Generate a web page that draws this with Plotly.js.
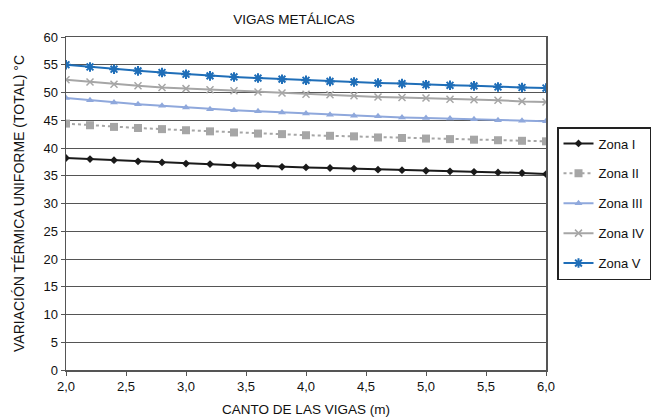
<!DOCTYPE html>
<html>
<head>
<meta charset="utf-8">
<script src="https://cdn.plot.ly/plotly-3.0.1.min.js"></script>
<style>html,body{margin:0;padding:0;background:#fff;}#chart{width:654px;height:418px;}</style>
</head>
<body>
<div id="chart"></div>
<script>
var xVals = [2.0,2.2,2.4,2.6,2.8,3.0,3.2,3.4,3.6,3.8,4.0,4.2,4.4,4.6,4.8,5.0,5.2,5.4,5.6,5.8,6.0];
var zonaI   = [38.2,38.0,37.8,37.6,37.4,37.2,37.1,36.9,36.8,36.6,36.5,36.4,36.3,36.1,36.0,35.9,35.8,35.7,35.6,35.5,35.3];
var zonaII  = [44.4,44.1,43.8,43.6,43.4,43.2,43.0,42.8,42.6,42.5,42.3,42.2,42.1,41.9,41.8,41.7,41.6,41.5,41.4,41.3,41.2];
var zonaIII = [49.0,48.6,48.2,47.9,47.6,47.3,47.0,46.8,46.6,46.4,46.2,46.0,45.8,45.7,45.5,45.4,45.3,45.2,45.0,44.9,44.8];
var zonaIV  = [52.3,51.9,51.5,51.2,50.9,50.7,50.5,50.3,50.1,49.9,49.7,49.6,49.4,49.2,49.1,49.0,48.8,48.7,48.6,48.4,48.3];
var zonaV   = [55.0,54.6,54.2,53.9,53.6,53.3,53.0,52.8,52.6,52.4,52.2,52.0,51.9,51.7,51.6,51.4,51.3,51.2,51.0,50.9,50.8];
var seriesNames = ["Zona I","Zona II","Zona III","Zona IV","Zona V"];
var xTickVals = [2.0,2.5,3.0,3.5,4.0,4.5,5.0,5.5,6.0];
var xTickText = ["2,0","2,5","3,0","3,5","4,0","4,5","5,0","5,5","6,0"];

var FONT = "Liberation Sans, Arial, sans-serif";
var data = [
  {x:xVals, y:zonaI, name:seriesNames[0], legendgroup:"g1", mode:"lines+markers", line:{color:"#1a1a1a", width:2}, marker:{symbol:"diamond", size:6, color:"#1a1a1a"}},
  {x:xVals, y:zonaII, name:seriesNames[1], legendgroup:"g2", mode:"lines+markers", line:{color:"#a6a6a6", width:2, dash:"dot"}, marker:{symbol:"square", size:8, color:"#a6a6a6"}},
  {x:xVals, y:zonaIII, name:seriesNames[2], legendgroup:"g3", mode:"lines+markers", line:{color:"#8fa8dc", width:2}, marker:{symbol:"triangle-up", size:7, color:"#8fa8dc"}},
  {x:xVals, y:zonaIV, name:seriesNames[3], legendgroup:"g4", mode:"lines+markers", line:{color:"#a6a6a6", width:2}, marker:{symbol:"x-thin", size:7, color:"#a6a6a6", line:{color:"#a6a6a6", width:1.5}}},
  {x:xVals, y:zonaV, name:seriesNames[4], legendgroup:"g5", mode:"lines+markers", line:{color:"#1f6eb8", width:2}, marker:{symbol:"asterisk", size:8, color:"#1f6eb8", line:{color:"#1f6eb8", width:2}}}
];
var layout = {
  width:654, height:418,
  margin:{l:66, r:108, t:37, b:48, autoexpand:false},
  paper_bgcolor:"#fff", plot_bgcolor:"#fff",
  font:{family:FONT, size:13, color:"#111"},
  title:{text:"VIGAS METÁLICAS", xref:"paper", x:0.475, xanchor:"center", yref:"container", y:0.955, yanchor:"middle", font:{family:FONT, size:13.5, color:"#111"}},
  xaxis:{
    range:[2,6], tickvals:xTickVals, ticktext:xTickText,
    showgrid:false, zeroline:false,
    showline:true, linecolor:"#555", linewidth:1.5, mirror:true,
    ticks:"outside", ticklen:4, tickcolor:"#555",
    tickfont:{family:FONT, size:13, color:"#111"},
    title:{text:"CANTO DE LAS VIGAS (m)", standoff:11, font:{family:FONT, size:13.5, color:"#111"}}
  },
  yaxis:{
    range:[0,60], dtick:5, tick0:0,
    showgrid:true, gridcolor:"#555", gridwidth:1,
    zeroline:false,
    showline:true, linecolor:"#555", linewidth:1.5, mirror:true,
    ticks:"outside", ticklen:4, tickcolor:"#555",
    tickfont:{family:FONT, size:13, color:"#111"},
    title:{text:"VARIACIÓN TÉRMICA UNIFORME (TOTAL) °C", standoff:15, font:{family:FONT, size:14, color:"#111"}}
  },
  showlegend:true,
  legend:{xref:"container", x:557/654, xanchor:"left", yref:"container", y:1-127/418, yanchor:"top",
    bordercolor:"#222", borderwidth:1.5, bgcolor:"#fff", traceorder:"grouped", tracegroupgap:10,
    font:{family:FONT, size:13, color:"#111"}, itemwidth:30}
};
Plotly.newPlot("chart", data, layout, {displayModeBar:false, staticPlot:true});
</script>
</body>
</html>
